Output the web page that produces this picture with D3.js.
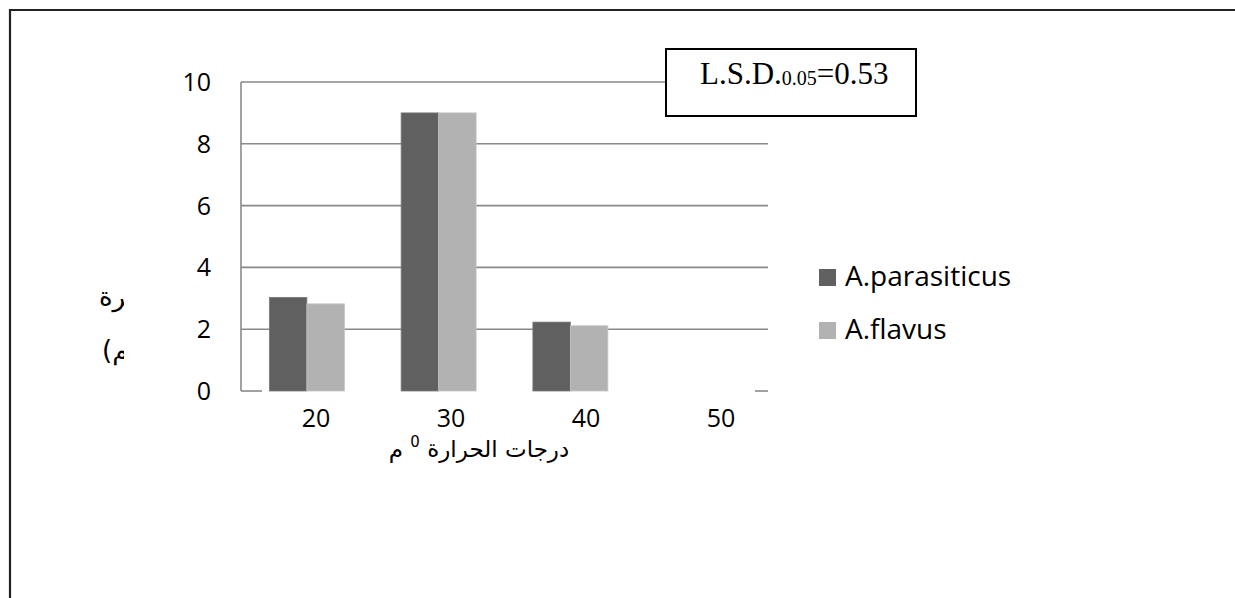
<!DOCTYPE html>
<html><head><meta charset="utf-8">
<script src="https://cdn.jsdelivr.net/npm/d3@7"></script>
<style>html,body{margin:0;padding:0;background:#fff;}svg{display:block;}</style>
</head><body>
<svg id="c" width="1235" height="598"></svg>
<script>
const categories = ["20", "30", "40", "50"];
const seriesNames = ["A.parasiticus", "A.flavus"];
const parasiticus = [3.03, 9.0, 2.23, 0];
const flavus = [2.82, 9.0, 2.11, 0];
const yTicks = [0, 2, 4, 6, 8, 10];
const colors = ["#606060", "#b2b2b2"];
const xTitle = "درجات الحرارة";
const xTitleUnit = "م";
const yTitle1 = "قطر المستعمرة";
const yTitle2 = "(سم)";
const lsdLabel = "L.S.D.";
const lsdSub = "0.05";
const lsdValue = "=0.53";

(function () {
const svg = d3.select("#c");
const pLeft = 241, pRight = 768, pTop = 82, pBottom = 391;

// outer frame
svg.append("path").attr("d", "M10,598 V10 H1235").attr("fill", "none")
  .attr("stroke", "#222").attr("stroke-width", 2.2);

const y = d3.scaleLinear().domain([0, 10]).range([pBottom, pTop]);
const x = d3.scaleBand().domain(categories).range([pLeft, pRight]).padding(0);
const xs = d3.scaleBand().domain(seriesNames).range([0, x.bandwidth()]).paddingInner(0).paddingOuter(0.757);
const xl = d3.scalePoint().domain(categories).range([316, 721]);

// gridlines
svg.append("g").selectAll("line").data(yTicks.filter(d => d > 0)).join("line")
  .attr("x1", pLeft).attr("x2", pRight).attr("y1", d => y(d)).attr("y2", d => y(d))
  .attr("stroke", "#8a8a8a").attr("stroke-width", 1.6);
// y axis line
svg.append("line").attr("x1", pLeft).attr("x2", pLeft).attr("y1", y(10)).attr("y2", y(0))
  .attr("stroke", "#8a8a8a").attr("stroke-width", 1.6);
// bottom stubs
svg.append("line").attr("x1", pLeft).attr("x2", pLeft + 21).attr("y1", y(0)).attr("y2", y(0))
  .attr("stroke", "#8a8a8a").attr("stroke-width", 1.6);
svg.append("line").attr("x1", pRight - 13).attr("x2", pRight).attr("y1", y(0)).attr("y2", y(0))
  .attr("stroke", "#8a8a8a").attr("stroke-width", 1.6);

// bars
const series = [parasiticus, flavus];
series.forEach((vals, si) => {
  svg.append("g").selectAll("rect").data(categories.map((c, i) => ({c, v: vals[i]})).filter(d => d.v > 0)).join("rect")
    .attr("x", d => x(d.c) + xs(seriesNames[si]))
    .attr("width", xs.bandwidth())
    .attr("y", d => y(d.v))
    .attr("height", d => y(0) - y(d.v))
    .attr("fill", colors[si])
    .attr("stroke", si === 0 ? "#7a7a7a" : "#c4c4c4").attr("stroke-width", 0.8);
});

// y tick labels
svg.append("g").selectAll("text").data(yTicks).join("text")
  .attr("x", 211).attr("y", d => y(d) + 9)
  .attr("text-anchor", "end")
  .attr("font-family", "Open Sans").attr("font-size", 25).attr("fill", "#000")
  .text(d => d);

// x tick labels
svg.append("g").selectAll("text").data(categories).join("text")
  .attr("x", d => xl(d)).attr("y", 427)
  .attr("text-anchor", "middle")
  .attr("font-family", "Open Sans").attr("font-size", 25).attr("fill", "#000")
  .text(d => d);

// x title
const xt = svg.append("text").attr("x", 479).attr("y", 457)
  .attr("text-anchor", "middle").attr("direction", "rtl")
  .attr("font-family", "DejaVu Sans").attr("font-size", 23).attr("fill", "#000");
xt.append("tspan").text(xTitle + " ");
xt.append("tspan").attr("font-size", 15).attr("dy", -10).text("0");
xt.append("tspan").attr("dy", 10).text(" " + xTitleUnit);

// clipped y title fragments
svg.append("clipPath").attr("id", "yclip").append("rect").attr("x", 0).attr("y", 0).attr("width", 124).attr("height", 598);
const yg = svg.append("g").attr("clip-path", "url(#yclip)");
yg.append("text").attr("x", 99).attr("y", 306).attr("direction", "rtl").attr("text-anchor", "end")
  .attr("font-family", "DejaVu Sans").attr("font-size", 26).attr("fill", "#000").text(yTitle1);
yg.append("text").attr("x", 102).attr("y", 359).attr("direction", "rtl").attr("text-anchor", "end")
  .attr("font-family", "DejaVu Sans").attr("font-size", 26).attr("fill", "#000").text(yTitle2);

// legend
const lg = svg.append("g").selectAll("g").data(seriesNames).join("g")
  .attr("transform", (d, i) => `translate(819, ${269 + i * 53})`);
lg.append("rect").attr("width", 17).attr("height", 17).attr("fill", (d, i) => colors[i]);
lg.append("text").attr("x", 26).attr("y", 17)
  .attr("font-family", "Open Sans").attr("font-size", 28).attr("fill", "#000").text(d => d);

// LSD box
svg.append("rect").attr("x", 666).attr("y", 49).attr("width", 250).attr("height", 67)
  .attr("fill", "#fff").attr("stroke", "#000").attr("stroke-width", 2);
const lt = svg.append("text").attr("x", 700).attr("y", 84)
  .attr("font-family", "Liberation Serif").attr("font-size", 31).attr("fill", "#000");
lt.append("tspan").text(lsdLabel);
lt.append("tspan").attr("font-size", 20).attr("dy", 1).text(lsdSub);
lt.append("tspan").attr("dy", -1).text(lsdValue);
})();
</script>
</body></html>
